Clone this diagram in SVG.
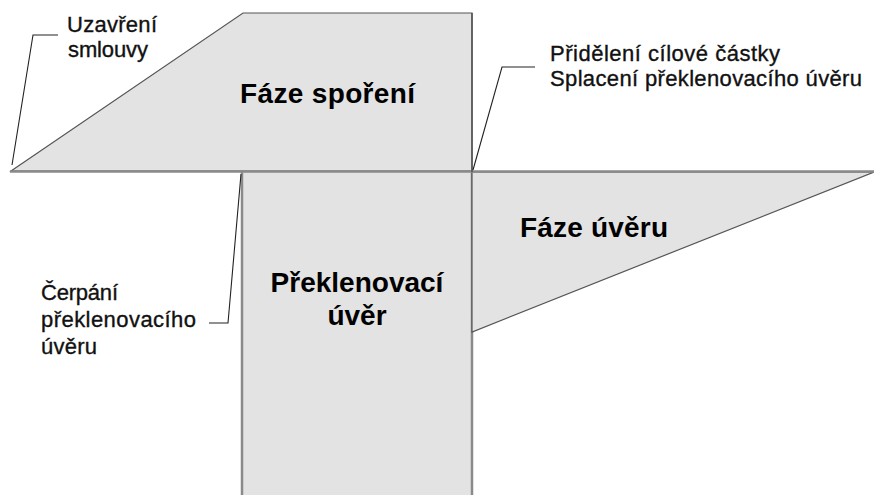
<svg xmlns="http://www.w3.org/2000/svg" width="874" height="495" viewBox="0 0 874 495">
<style>
.shape{fill:#e3e3e3;stroke:#555;stroke-width:1.2}
.edge{fill:none;stroke:#8a8a8a;stroke-width:2.5}
.lead{fill:none;stroke:#222;stroke-width:1.1}
.big{font-family:"Liberation Sans",Arial,sans-serif;font-weight:bold;font-size:28px;fill:#000}
.lbl{font-family:"Liberation Sans",Arial,sans-serif;font-size:22px;fill:#111;stroke:#111;stroke-width:0.35}
</style>
<rect width="874" height="495" fill="#fff"/>
<g id="faze-sporeni">
<polygon class="shape" points="11,171 243,13 472,13 472,171"/>
<text class="big" x="240" y="103" textLength="175">Fáze spoření</text>
</g>
<g id="preklenovaci-uver">
<rect x="242" y="172" width="230" height="330" fill="#e3e3e3" stroke="none"/>
<line class="edge" x1="242" y1="172" x2="242" y2="495"/>
<line class="edge" x1="472" y1="172" x2="472" y2="495"/>
<text class="big" x="357" y="292" text-anchor="middle">Překlenovací</text>
<text class="big" x="357" y="325" text-anchor="middle">úvěr</text>
</g>
<g id="faze-uveru">
<polygon class="shape" points="472,172 874,172 472,332"/>
<text class="big" x="520" y="237" textLength="148">Fáze úvěru</text>
</g>
<g id="axis">
<line class="edge" x1="10" y1="171.5" x2="874" y2="171.5"/>
<line x1="472" y1="13" x2="472" y2="172" stroke="#555" stroke-width="1.5"/>
</g>
<g id="connectors">
<polyline class="lead" points="12,165 33,35 58,35"/>
<polyline class="lead" points="473,170 502,67 535,67"/>
<polyline class="lead" points="209,323 228,323 241,174"/>
</g>
<g id="label-uzavreni">
<text class="lbl" x="67" y="32" textLength="90">Uzavření</text>
<text class="lbl" x="68" y="57" textLength="80">smlouvy</text>
</g>
<g id="label-prideleni">
<text class="lbl" x="550" y="61" textLength="230">Přidělení cílové částky</text>
<text class="lbl" x="550" y="86" textLength="312">Splacení překlenovacího úvěru</text>
</g>
<g id="label-cerpani">
<text class="lbl" x="41" y="300" textLength="77">Čerpání</text>
<text class="lbl" x="41" y="327" textLength="155">překlenovacího</text>
<text class="lbl" x="41" y="354" textLength="56">úvěru</text>
</g>
</svg>
